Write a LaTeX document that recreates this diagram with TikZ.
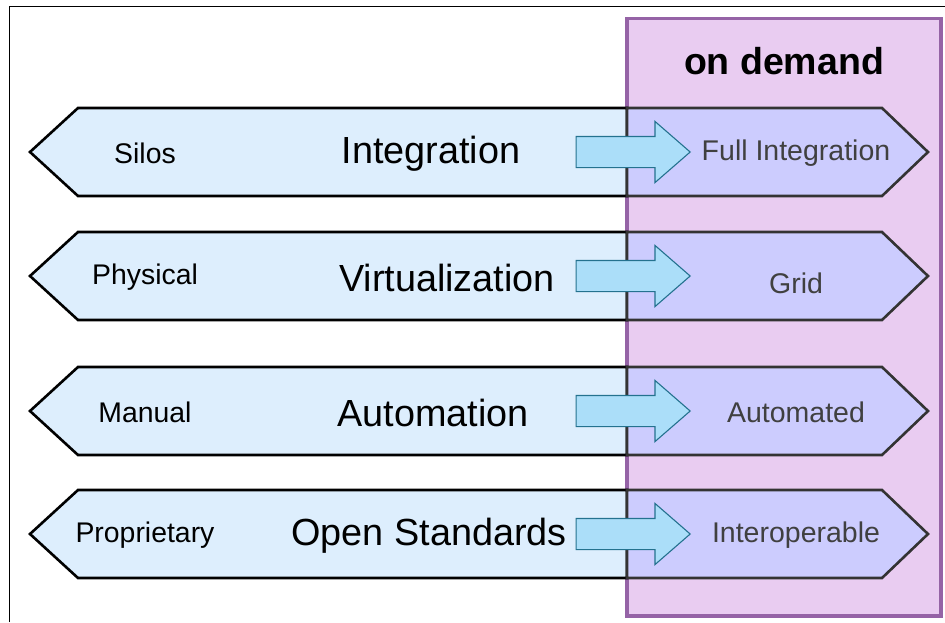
\documentclass[tikz,border=0pt]{standalone}
\usepackage{fontspec}
\setmainfont{Liberation Sans}
\usepackage{xcolor}
\usepackage{tikz}
\usetikzlibrary{shapes.arrows,positioning}
\definecolor{sky-pale}{HTML}{DDEEFD}
\definecolor{lavender-blue}{HTML}{CCCCFE}
\definecolor{orchid-pale}{HTML}{E9CCF1}
\definecolor{orchid-dark}{HTML}{9563A6}
\definecolor{cyan-pale}{HTML}{ABDEF9}
\definecolor{teal-dark}{HTML}{24728F}

\begin{document}
\begin{tikzpicture}[x=1pt, y=-1pt,
    oldside/.style = {draw=black, line width=2.6pt, fill=sky-pale,
      line join=miter},
    newside/.style = {draw=black!80, line width=2.6pt, fill=lavender-blue,
      line join=miter},
    demandbox/.style = {draw=orchid-dark, line width=3.5pt, fill=orchid-pale},
    moveto/.style = {single arrow, draw=teal-dark, fill=cyan-pale,
      line width=1.1pt, inner xsep=0pt, inner ysep=15pt,
      single arrow head extend=15pt, single arrow tip angle=82,
      minimum height=114pt, anchor=tip},
    fromlabel/.style = {font=\fontsize{28.4}{30}\selectfont, text=black},
    trendlabel/.style = {font=\fontsize{37.8}{40}\selectfont, text=black},
    tolabel/.style = {font=\fontsize{28.5}{30}\selectfont, text=black!75}]

  \useasboundingbox (0,0) rectangle (945,622);
  \draw[line width=1.8pt] (9.5,622) -- (9.5,6.5) -- (945,6.5);

  % the on demand column
  \draw[demandbox] (627,18.5) rectangle (941,616);
  \node[font=\bfseries\fontsize{37.5}{40}\selectfont] (demand) at (784,61) {on demand};

  \foreach \y/\old/\trend/\tx/\new/\dy in {152/Silos/Integration/431/Full Integration/0,
      276/Physical/Virtualization/447/Grid/6,
      411/Manual/Automation/433/Automated/0,
      534/Proprietary/Open Standards/429/Interoperable/0}
  {
    \draw[oldside] (627,\y-44) -- (78,\y-44) -- (30,\y) -- (78,\y+44)
      -- (627,\y+44) -- cycle;
    \draw[newside] (627,\y-44) -- (882,\y-44) -- (928,\y) -- (882,\y+44)
      -- (627,\y+44) -- cycle;
    \node[moveto] (move-\old) at (691,\y) {};
    \node[fromlabel] (from-\old) at (145,\y+1) {\old};
    \node[trendlabel] (trend-\old) at (\tx,\y+2) {\trend};
    \node[tolabel] (to-\old) at (796,\y+1+\dy) {\new};
  }
\end{tikzpicture}
\end{document}
